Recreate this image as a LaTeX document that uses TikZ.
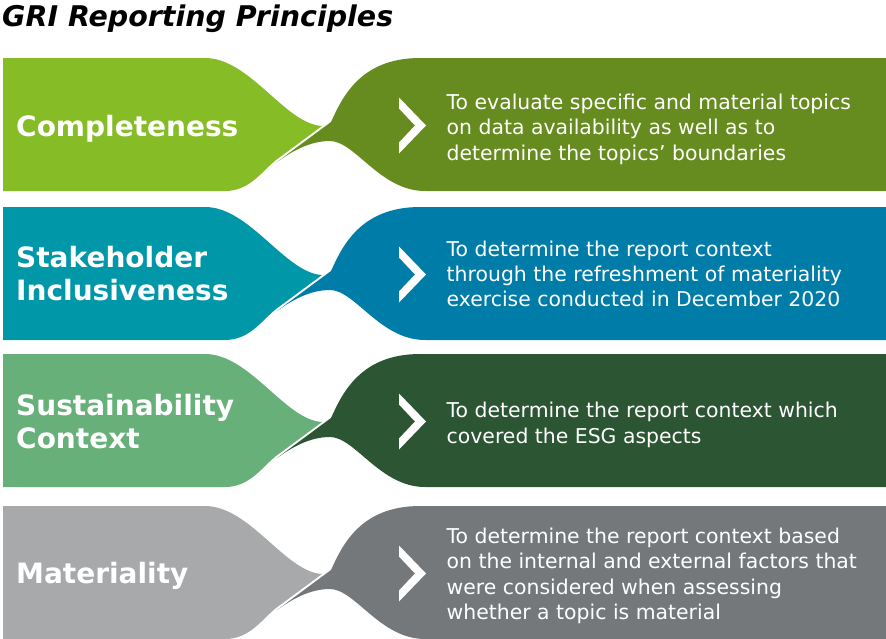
\documentclass[tikz,border=0pt]{standalone}
\usepackage{fontspec}
\setmainfont{DejaVu Sans}

\definecolor{limeL}{HTML}{86BC25}
\definecolor{limeR}{HTML}{668B1F}
\definecolor{tealL}{HTML}{0097A9}
\definecolor{tealR}{HTML}{007CA8}
\definecolor{sageL}{HTML}{67B07A}
\definecolor{sageR}{HTML}{2C5533}
\definecolor{greyL}{HTML}{A8A9AB}
\definecolor{greyR}{HTML}{75787B}

% Two interlocking ribbon halves with a chevron, for a row whose top edge is at #1
\newcommand\ribbonpair[3]{%
  \begin{scope}[shift={(0,#1)}]
    \fill[#2] (3,0) -- (205,0) .. controls (250,0) and (285,66) .. (322,68)
      -- (276,102) .. controls (262,113) and (250,133) .. (225,133)
      -- (3,133) -- cycle;
    \fill[#3] (886,0) -- (420,0) .. controls (360,0) and (342,40) .. (331,64)
      -- (277,104) .. controls (295,91) and (312,83) .. (330,83)
      .. controls (355,83) and (380,133) .. (425,133)
      -- (886,133) -- cycle;
    \fill[white] (399,39.5) -- (426,67.5) -- (399,95.5) -- (399,84.5)
      -- (415,67.5) -- (399,50.5) -- cycle;
  \end{scope}}

\begin{document}
\begin{tikzpicture}[x=1pt,y=-1pt,
  headline/.style={anchor=base west, inner sep=0pt,
    font=\fontsize{28.5}{34}\selectfont\bfseries\itshape},
  principlename/.style={anchor=base west, inner sep=0pt, align=left,
    text=white, font=\fontsize{28}{33}\selectfont\bfseries},
  detailtext/.style={anchor=base west, inner sep=0pt, align=left,
    text=white, font=\fontsize{20.4}{25.3}\selectfont}]
  \useasboundingbox (0,0) rectangle (886,638);

  \ribbonpair{58}{limeL}{limeR}
  \ribbonpair{207}{tealL}{tealR}
  \ribbonpair{354}{sageL}{sageR}
  \ribbonpair{506}{greyL}{greyR}

  \node[headline] (title) at (2,26) {GRI Reporting Principles};

  % multi-line nodes are placed by the baseline of their last line
  \node[principlename] (completeness) at (16,136) {Completeness};
  \node[principlename] (stakeholder) at (16,300) {Stakeholder\\Inclusiveness};
  \node[principlename] (sustainability) at (16,448.3) {Sustainability\\Context};
  \node[principlename] (materiality) at (16,583) {Materiality};

  \node[detailtext] (completenessnote) at (446.5,160)
    {To evaluate specific and material topics\\on data availability as well as to\\determine the topics’ boundaries};
  \node[detailtext] (stakeholdernote) at (446.5,306.7)
    {To determine the report context\\through the refreshment of materiality\\exercise conducted in December 2020};
  \node[detailtext] (sustainabilitynote) at (446.5,443)
    {To determine the report context which\\covered the ESG aspects};
  \node[detailtext] (materialitynote) at (446.5,619.3)
    {To determine the report context based\\on the internal and external factors that\\were considered when assessing\\whether a topic is material};
\end{tikzpicture}
\end{document}
